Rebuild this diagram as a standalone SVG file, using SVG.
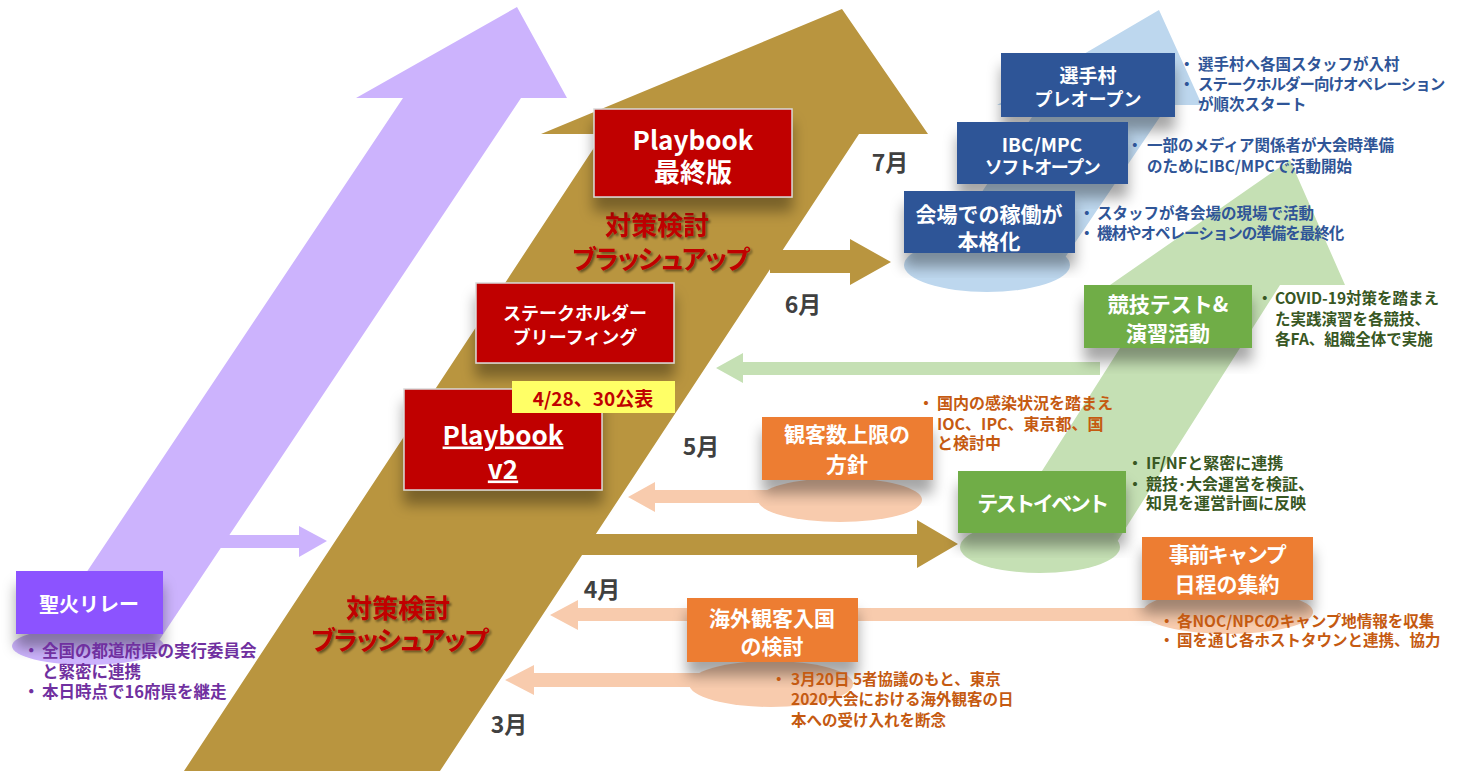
<svg xmlns="http://www.w3.org/2000/svg" width="1480" height="771" viewBox="0 0 1480 771">
<defs>
<filter id="sh" x="-20%" y="-20%" width="140%" height="160%">
<feDropShadow dx="0" dy="14" stdDeviation="7" flood-color="#000" flood-opacity="0.35"/>
</filter>
<filter id="tsh" x="-10%" y="-20%" width="120%" height="150%">
<feDropShadow dx="2" dy="2" stdDeviation="1.2" flood-color="#000" flood-opacity="0.45"/>
</filter>
<style>
text{font-family:'Noto Sans CJK JP','Noto Sans',sans-serif;font-weight:700}
.bt{fill:#fff;text-anchor:middle;dominant-baseline:central}
.mon{fill:#404040;font-size:23px;text-anchor:middle;dominant-baseline:central}
.bl{font-size:15.5px;dominant-baseline:central}
.bl16{font-size:16px;dominant-baseline:central}
.bl17{font-size:16.5px;dominant-baseline:central}
.kt{letter-spacing:-1px}
.red{fill:#c00000;stroke:#d9d9d9;stroke-width:1.5}
.blue{fill:#2f5597}
.green{fill:#70ad47}
.orange{fill:#ed7d31}
.big{fill:#c00000;font-size:26px;text-anchor:middle;dominant-baseline:central}
.bigk{letter-spacing:-4px}
</style>
</defs>
<rect width="1480" height="771" fill="#fff"/>

<g id="connectors">
<polygon id="purple-main" points="517,7 567,98 521,98 156,645 38,645 403,98 356,98" fill="#ccb3fd"/>
<ellipse cx="88" cy="646" rx="76" ry="19" fill="#ccb3fd"/>
<polygon id="purple-to-brown" points="215,535 299,535 299,526 327,541 299,557 299,548 215,548" fill="#ccb3fd"/>
<polygon id="brown-main" points="842,9 928,134 859,134 440,771 184,771 603,134 541,134" fill="#b9953f"/>
<polygon id="brown-jun" points="770,250 850,250 850,239 891,262 850,285 850,273 770,273" fill="#b9953f"/>
<polygon id="brown-apr" points="580,534 917,534 917,520 958,544 917,568 917,555 580,555" fill="#b9953f"/>
<polygon id="blue-diag" points="1159,10 1202,105 1168,105 1062,262 935,262 1040,105 997,105" fill="#bdd7ee"/>
<ellipse cx="987" cy="265" rx="83" ry="27" fill="#bdd7ee"/>
<polygon id="green-diag" points="1290,160 1345,285 1280,285 1115,545 995,545 1160,285 1110,285" fill="#c5e0b4"/>
<ellipse cx="1040" cy="547" rx="80" ry="26" fill="#c5e0b4"/>
<polygon id="green-may" points="1100,362 743,362 743,353 716,368 743,383 743,375 1100,375" fill="#c5e0b4"/>
<ellipse cx="840" cy="500" rx="82" ry="22" fill="#f8cbad"/>
<polygon id="orange-may" points="790,490 655,490 655,482 628,497 655,512 655,503 790,503" fill="#f8cbad"/>
<ellipse cx="1228" cy="612" rx="85" ry="22" fill="#f8cbad"/>
<polygon id="orange-apr" points="1160,608 578,608 578,600 550,615 578,630 578,621 1160,621" fill="#f8cbad"/>
<ellipse cx="771" cy="684" rx="82" ry="23" fill="#f8cbad"/>
<polygon id="orange-mar" points="720,673 534,673 534,665 505,680 534,695 534,687 720,687" fill="#f8cbad"/>
</g>

<g id="months">
<text class="mon" x="890" y="161">7月</text>
<text class="mon" x="803" y="303">6月</text>
<text class="mon" x="701" y="445">5月</text>
<text class="mon" x="602" y="588">4月</text>
<text class="mon" x="509" y="723">3月</text>
</g>

<g id="brushup-upper" filter="url(#tsh)">
<text class="big" x="657" y="223">対策検討</text>
<text class="big bigk" x="659" y="257">ブラッシュアップ</text>
</g>
<g id="brushup-lower" filter="url(#tsh)">
<text class="big" x="398" y="606">対策検討</text>
<text class="big bigk" x="398" y="638">ブラッシュアップ</text>
</g>

<g id="torch-relay">
<rect x="16" y="571" width="147" height="63" fill="#8c52ff" filter="url(#sh)"/>
<text class="bt" x="89" y="603" font-size="20">聖火リレー</text>
<text class="bl17" fill="#7030a0"><tspan x="23" y="650">・</tspan><tspan x="42" y="650">全国の都道府県の実行委員会</tspan><tspan x="42" y="671">と緊密に連携</tspan><tspan x="23" y="691">・</tspan><tspan x="42" y="691">本日時点で16府県を継走</tspan></text>
</g>

<g id="playbook-final">
<rect x="594" y="109" width="198" height="88" class="red" filter="url(#sh)"/>
<text class="bt" x="693" y="138" font-size="26">Playbook</text>
<text class="bt" x="693" y="170" font-size="26">最終版</text>
</g>

<g id="stakeholder-briefing">
<rect x="476" y="283" width="198" height="80" class="red" filter="url(#sh)"/>
<text class="bt" x="575" y="312" font-size="18">ステークホルダー</text>
<text class="bt" x="575" y="336" font-size="18">ブリーフィング</text>
</g>

<g id="playbook-v2">
<rect x="404" y="389" width="198" height="101" class="red" filter="url(#sh)"/>
<text class="bt" x="503" y="433" font-size="26" text-decoration="underline">Playbook</text>
<text class="bt" x="503" y="467" font-size="26" text-decoration="underline">v2</text>
</g>

<g id="announce">
<rect x="512" y="381" width="163" height="32" fill="#ffff66"/>
<text x="593" y="397" font-size="19" fill="#c00000" text-anchor="middle" dominant-baseline="central">4/28、30公表</text>
</g>

<g id="village">
<rect x="1001" y="53" width="174" height="64" class="blue" filter="url(#sh)"/>
<text class="bt" x="1088" y="74" font-size="19">選手村</text>
<text class="bt" x="1088" y="98" font-size="18">プレオープン</text>
<text class="bl" fill="#2f5597"><tspan x="1179" y="63">・</tspan><tspan x="1198" y="63">選手村へ各国スタッフが入村</tspan><tspan x="1179" y="83">・</tspan><tspan x="1198" y="83" class="kt">ステークホルダー向けオペレーション</tspan><tspan x="1198" y="103">が順次スタート</tspan></text>
</g>

<g id="ibc-mpc">
<rect x="957" y="122" width="171" height="62" class="blue" filter="url(#sh)"/>
<text class="bt" x="1042" y="143" font-size="19">IBC/MPC</text>
<text class="bt" x="1042" y="166" font-size="18" letter-spacing="-1.5">ソフトオープン</text>
<text class="bl" fill="#2f5597"><tspan x="1127" y="144">・</tspan><tspan x="1147" y="144">一部のメディア関係者が大会時準備</tspan><tspan x="1147" y="165">のためにIBC/MPCで活動開始</tspan></text>
</g>

<g id="venue-operation">
<rect x="904" y="191" width="171" height="62" class="blue" filter="url(#sh)"/>
<text class="bt" x="989" y="213" font-size="21">会場での稼働が</text>
<text class="bt" x="989" y="240" font-size="21">本格化</text>
<text class="bl" fill="#2f5597"><tspan x="1079" y="212">・</tspan><tspan x="1097" y="212">スタッフが各会場の現場で活動</tspan><tspan x="1079" y="232">・</tspan><tspan x="1097" y="232" class="kt">機材やオペレーションの準備を最終化</tspan></text>
</g>

<g id="sport-test">
<rect x="1084" y="285" width="168" height="63" class="green" filter="url(#sh)"/>
<text class="bt" x="1168" y="303" font-size="21">競技テスト&amp;</text>
<text class="bt" x="1168" y="332" font-size="21">演習活動</text>
<text class="bl" fill="#385723"><tspan x="1257" y="297">・</tspan><tspan x="1275" y="297">COVID-19対策を踏まえ</tspan><tspan x="1275" y="318">た実践演習を各競技、</tspan><tspan x="1275" y="338">各FA、組織全体で実施</tspan></text>
</g>

<g id="spectator-cap">
<rect x="762" y="417" width="171" height="63" class="orange" filter="url(#sh)"/>
<text class="bt" x="847" y="433" font-size="21">観客数上限の</text>
<text class="bt" x="847" y="463" font-size="21">方針</text>
<text class="bl16" fill="#c55a11"><tspan x="918" y="402">・</tspan><tspan x="937" y="402">国内の感染状況を踏まえ</tspan><tspan x="937" y="423">IOC、IPC、東京都、国</tspan><tspan x="937" y="442">と検討中</tspan></text>
</g>

<g id="test-event">
<rect x="958" y="471" width="168" height="62" class="green" filter="url(#sh)"/>
<text class="bt" x="1042" y="502" font-size="21" letter-spacing="-2.5">テストイベント</text>
<text class="bl16" fill="#385723"><tspan x="1127" y="462">・</tspan><tspan x="1146" y="462">IF/NFと緊密に連携</tspan><tspan x="1127" y="483">・</tspan><tspan x="1146" y="483">競技･大会運営を検証、</tspan><tspan x="1146" y="502">知見を運営計画に反映</tspan></text>
</g>

<g id="pre-camp">
<rect x="1142" y="537" width="171" height="63" class="orange" filter="url(#sh)"/>
<text class="bt" x="1227" y="553" font-size="21" letter-spacing="-1.5">事前キャンプ</text>
<text class="bt" x="1227" y="583" font-size="21">日程の集約</text>
<text class="bl" fill="#c55a11"><tspan x="1159" y="620">・</tspan><tspan x="1177" y="620">各NOC/NPCのキャンプ地情報を収集</tspan><tspan x="1159" y="639">・</tspan><tspan x="1177" y="639">国を通じ各ホストタウンと連携、協力</tspan></text>
</g>

<g id="overseas-spectators">
<rect x="687" y="598" width="171" height="64" class="orange" filter="url(#sh)"/>
<text class="bt" x="772" y="617" font-size="21">海外観客入国</text>
<text class="bt" x="772" y="645" font-size="21">の検討</text>
<text class="bl" fill="#c55a11"><tspan x="771" y="678">・</tspan><tspan x="791" y="678">3月20日  5者協議のもと、東京</tspan><tspan x="791" y="698">2020大会における海外観客の日</tspan><tspan x="791" y="719">本への受け入れを断念</tspan></text>
</g>
</svg>
